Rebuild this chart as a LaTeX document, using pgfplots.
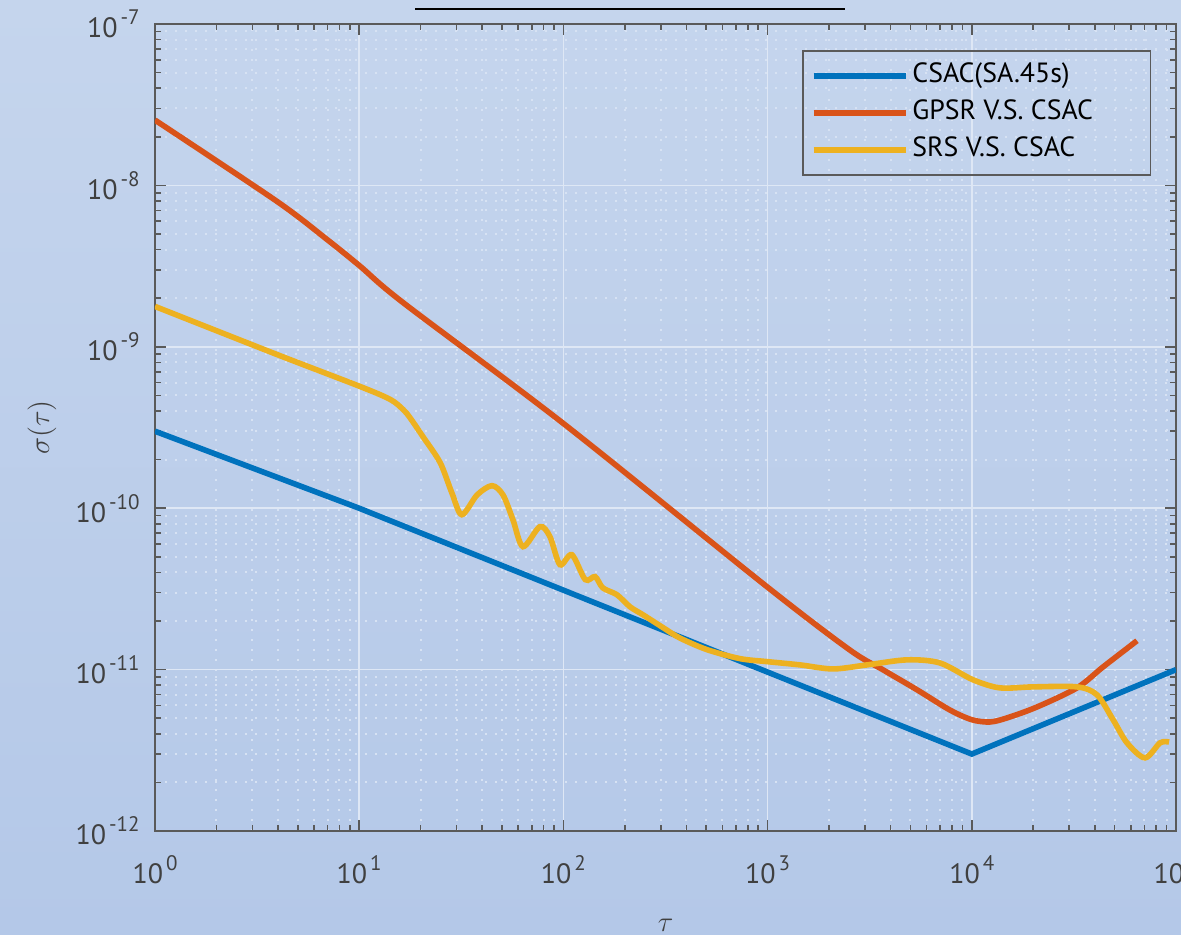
\documentclass[border=0pt]{standalone}
\usepackage{pgfplots}
\pgfplotsset{compat=1.18}
\usepackage{fontspec}
\setmainfont{PT Sans}
\definecolor{mblue}{RGB}{0,114,189}
\definecolor{mred}{RGB}{217,83,25}
\definecolor{myel}{RGB}{237,177,32}
\definecolor{bgtop}{RGB}{197,213,237}
\definecolor{bgbot}{RGB}{180,200,232}
\definecolor{axgray}{RGB}{90,90,90}
\definecolor{gridmaj}{RGB}{222,231,245}
\definecolor{gridmin}{RGB}{215,226,243}
\newcommand{\E}[1]{10\hspace{1.5pt}\raisebox{6.5pt}{\fontsize{10.5}{10.5}\selectfont #1}}
\begin{document}
\begin{tikzpicture}
\useasboundingbox (-77.5pt,-51.5pt) rectangle (513pt,415.5pt);
\shade[top color=bgtop,bottom color=bgbot] (-77.5pt,-51.5pt) rectangle (513pt,415.5pt);
\draw[black,line width=1.2pt] (130pt,411pt) -- (345pt,411pt);
\begin{axis}[
  at={(0,0)}, anchor=south west,
  scale only axis, width=510.5pt, height=403.5pt,
  xmode=log, ymode=log,
  xmin=1, xmax=1e5, ymin=1e-12, ymax=1e-7,
  axis line style={axgray, line width=1pt},
  tick style={axgray, line width=0.8pt},
  major tick length=5.5pt, minor tick length=3pt,
  tick align=inside,
  grid=both,
  major grid style={gridmaj, line width=0.8pt},
  minor grid style={gridmin, line width=1pt, dash pattern=on 1.2pt off 3.8pt},
  xtick={1,10,100,1000,10000,100000},
  xticklabels={\E{0},\E{1},\E{2},\E{3},\E{4},\E{5}},
  minor xtick={2,3,4,5,6,7,8,9,20,30,40,50,60,70,80,90,200,300,400,500,600,700,800,900,2000,3000,4000,5000,6000,7000,8000,9000,20000,30000,40000,50000,60000,70000,80000,90000},
  ytick={1e-12,1e-11,1e-10,1e-9,1e-8,1e-7},
  yticklabels={\E{-12},\E{-11},\E{-10},\E{-9},\E{-8},\E{-7}},
  minor ytick={2e-12,3e-12,4e-12,5e-12,6e-12,7e-12,8e-12,9e-12,2e-11,3e-11,4e-11,5e-11,6e-11,7e-11,8e-11,9e-11,2e-10,3e-10,4e-10,5e-10,6e-10,7e-10,8e-10,9e-10,2e-9,3e-9,4e-9,5e-9,6e-9,7e-9,8e-9,9e-9,2e-8,3e-8,4e-8,5e-8,6e-8,7e-8,8e-8,9e-8},
  ticklabel style={font=\fontsize{14}{16}\selectfont, text=black!75},
  xticklabel style={anchor=north, inner sep=0pt, yshift=-12pt},
  yticklabel style={anchor=east, inner sep=0pt, xshift=-7.5pt},
  xlabel={$\tau$}, ylabel={$\sigma(\tau)$},
  label style={font=\fontsize{15}{17}\selectfont, text=black!75},
  x label style={at={(axis description cs:0.5,-0.108)}, anchor=north, inner sep=0pt},
  y label style={at={(axis description cs:-0.1107,0.5)}, anchor=center},
  legend style={at={(axis description cs:0.6337,0.9678)}, anchor=north west,
    draw=axgray, line width=0.8pt, fill=none,
    font=\fontsize{13.9}{16}\selectfont,
    inner xsep=4pt, inner ysep=4pt, row sep=1.5pt,
    nodes={inner sep=2pt, text height=10pt, text depth=3pt}},
  legend cell align=left,
  legend image code/.code={\draw[#1] (0pt,0pt) -- (46pt,0pt);},
]
\addplot[mblue, line width=2.8pt] coordinates {
 (1,3.0e-10) (10,1.0e-10) (10000,3.0e-12) (100000,1.0e-11)};
\addlegendentry{\makebox[113pt][l]{CSAC(SA.45s)}}
\addplot[mred, line width=2.8pt, smooth] coordinates {
 (1,2.54e-8) (3.95,7.98e-9) (6.95,4.63e-9) (10.1,3.16e-9) (16.4,1.88e-9)
 (100,3.35e-10) (1000,3.24e-11) (2535,1.32e-11) (3673,9.98e-12) (5395,7.50e-12)
 (7816,5.62e-12) (10023,4.89e-12) (12274,4.74e-12) (14859,5.02e-12)
 (20845,5.87e-12) (32734,7.71e-12) (43954,1.04e-11) (64417,1.51e-11)};
\addlegendentry{\makebox[113pt][l]{GPSR V.S. CSAC}}
\addplot[myel, line width=2.8pt, smooth] coordinates {
 (1,1.78e-9) (3.95,8.97e-10) (10.1,5.68e-10) (14.2,4.72e-10) (16.4,4.09e-10)
 (17.7,3.65e-10) (20.5,2.78e-10) (24.9,1.92e-10) (28.4,1.25e-10) (31.8,9.12e-11)
 (37.8,1.21e-10) (44.7,1.38e-10) (50.6,1.21e-10) (56.6,8.49e-11) (63.4,5.78e-11)
 (76.7,7.69e-11) (85.9,6.67e-11) (96.2,4.47e-11) (110,5.15e-11) (128,3.61e-11)
 (143,3.77e-11) (156,3.21e-11) (183,2.91e-11) (212,2.45e-11) (245,2.19e-11)
 (308,1.82e-11) (372,1.57e-11) (505,1.33e-11) (733,1.17e-11) (1005,1.12e-11)
 (1442,1.07e-11) (2089,1.01e-11) (3069,1.07e-11) (4819,1.15e-11) (6982,1.10e-11)
 (10139,8.65e-12) (13740,7.71e-12) (19953,7.82e-12) (32734,7.82e-12)
 (41020,6.98e-12) (49204,4.89e-12) (57544,3.52e-12) (70469,2.84e-12)
 (83560,3.52e-12) (92470,3.56e-12)};
\addlegendentry{\makebox[113pt][l]{SRS V.S. CSAC}}
\end{axis}
\end{tikzpicture}
\end{document}
